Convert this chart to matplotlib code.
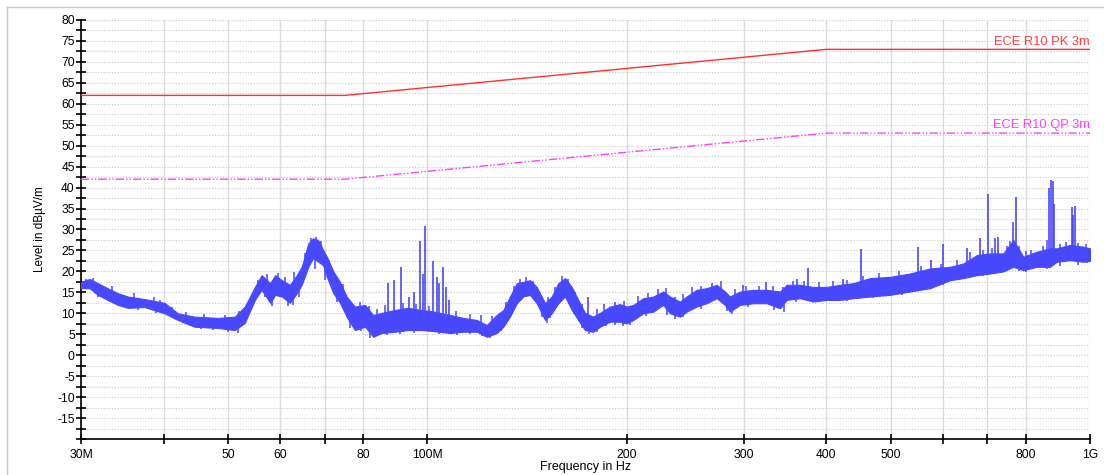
import numpy as np
import matplotlib
matplotlib.use("Agg")
import matplotlib.pyplot as plt
from matplotlib.ticker import FixedLocator, FixedFormatter, MultipleLocator
from matplotlib.lines import Line2D

plt.rcParams['font.family'] = ['Liberation Sans', 'DejaVu Sans']
plt.rcParams['axes.unicode_minus'] = False

# limit lines (MHz, dBuV/m)
pk_freq = [30, 75, 400, 1000]
pk_level = [62, 62, 73, 73]
qp_freq = [30, 75, 400, 1000]
qp_level = [42, 42, 53, 53]

trace_freq = [30.0, 30.9, 31.8, 32.9, 34.1, 35.3, 37.4, 40.1, 42.0, 44.5,
              48.3, 51.2, 53.0, 54.9, 56.2, 57.9, 58.9, 60.3, 62.0, 63.5,
              64.6, 66.1, 67.2, 68.4, 69.6, 70.5, 72.1, 73.8, 75.5, 77.7,
              80.5, 82.8, 85.3, 89.3, 93.5, 98.0, 101.5, 108.2, 113.3, 118.7,
              122.9, 127.2, 130.2, 133.2, 136.4, 139.5, 142.8, 146.2, 150.5, 154.0,
              157.6, 161.3, 165.1, 168.9, 172.9, 177.9, 182.1, 188.6, 195.2, 199.8,
              204.5, 211.7, 219.2, 226.9, 232.3, 240.5, 246.1, 254.8, 263.8, 273.2,
              281.2, 286.1, 296.3, 310.3, 325.1, 340.5, 348.5, 365.0, 382.2, 400.4,
              419.4, 439.2, 465.5, 499.0, 535.0, 573.5, 614.9, 644.0, 674.7, 706.6,
              740.0, 766.1, 793.2, 831.0, 870.3, 890.8, 932.8, 976.9, 1000.0]
trace_high = [17.5, 18.2, 17.2, 16.0, 14.8, 14.0, 13.4, 12.5, 10.0, 9.2,
              8.9, 9.2, 11.6, 16.3, 19.1, 17.2, 19.1, 17.9, 16.8, 19.1,
              21.1, 26.7, 27.9, 27.5, 25.1, 23.5, 20.0, 17.5, 14.0, 11.6,
              12.0, 9.6, 10.1, 10.8, 11.3, 10.8, 10.5, 9.6, 8.9, 8.4,
              7.2, 9.6, 10.8, 14.0, 17.2, 17.5, 17.9, 16.3, 12.4, 14.0,
              17.2, 18.4, 16.3, 13.2, 10.1, 9.2, 10.1, 11.6, 12.2, 11.6,
              12.0, 13.6, 14.0, 15.2, 14.0, 12.8, 14.0, 15.6, 16.0, 16.8,
              15.2, 14.0, 15.2, 15.6, 15.6, 15.2, 16.8, 16.8, 16.3, 16.3,
              16.8, 17.2, 18.4, 18.7, 19.5, 20.7, 21.1, 21.9, 23.9, 24.3,
              24.3, 27.5, 23.5, 24.7, 25.5, 25.5, 26.3, 25.9, 25.5]
trace_low = [16.0, 16.0, 14.4, 13.2, 12.0, 11.3, 11.5, 10.0, 8.4, 6.8,
             6.5, 6.0, 7.7, 13.2, 15.6, 12.5, 14.4, 14.0, 12.5, 14.8,
             16.8, 21.1, 23.2, 22.3, 21.5, 18.7, 14.8, 12.5, 9.2, 6.0,
             6.8, 4.4, 5.3, 5.6, 6.0, 6.0, 5.8, 5.3, 5.6, 5.6,
             4.4, 5.3, 6.8, 9.2, 12.4, 14.0, 14.4, 12.4, 8.4, 10.0,
             12.4, 14.0, 10.8, 8.4, 6.0, 5.6, 6.8, 8.0, 8.0, 7.6,
             8.4, 10.0, 10.4, 12.0, 10.0, 9.2, 10.4, 11.6, 12.4, 13.6,
             12.0, 10.4, 12.0, 12.4, 12.4, 11.2, 13.2, 13.6, 12.8, 13.2,
             13.2, 13.6, 14.0, 14.4, 15.2, 16.0, 17.9, 18.4, 19.1, 19.5,
             20.0, 21.1, 20.3, 21.1, 21.1, 22.3, 22.7, 22.3, 22.5]

# narrow spikes sticking out of the band
spike_freq = [87.3, 89.0, 91.2, 93.9, 95.3, 97.4, 98.6, 99.2, 102.0, 103.5,
              104.2, 105.4, 106.7, 107.7, 174.9, 191.9, 299.4, 323.9, 360.8, 375.6,
              424.2, 450.6, 550.6, 574.9, 600.6, 651.6, 682.5, 701.0, 719.0, 725.8,
              766.1, 773.3, 868.7, 873.3, 877.9, 882.4, 938.3, 944.2, 950.1]
spike_top = [17.2, 17.9, 21.1, 14.0, 15.2, 27.3, 19.4, 30.8, 22.5, 18.7,
             17.3, 21.0, 16.2, 13.2, 14.0, 12.8, 16.8, 17.5, 18.1, 20.9,
             18.1, 25.3, 25.9, 22.7, 26.5, 25.5, 27.9, 38.5, 27.9, 28.1,
             31.9, 37.7, 40.0, 41.7, 41.5, 36.0, 35.3, 33.5, 35.6]

# small noise excursions above / below the band
up_freq = [30.5, 31.3, 33.4, 36.1, 38.6, 39.5, 41.2, 43.2, 46.0, 49.5,
           52.0, 55.5, 57.2, 59.5, 61.0, 63.0, 65.3, 66.7, 67.8, 69.0,
           71.0, 74.5, 79.0, 81.5, 84.0, 86.3, 92.0, 96.0, 100.5, 110.5,
           116.0, 120.5, 125.0, 131.5, 135.0, 138.0, 141.0, 144.5, 148.0, 152.0,
           156.0, 159.5, 163.2, 167.0, 171.0, 180.0, 185.0, 198.0, 208.0, 215.0,
           223.0, 229.5, 236.0, 243.0, 250.5, 259.0, 268.5, 277.0, 291.0, 303.0,
           317.0, 332.0, 344.0, 356.0, 370.0, 390.0, 410.0, 430.0, 455.0, 480.0,
           515.0, 555.0, 595.0, 630.0, 660.0, 690.0, 712.0, 750.0, 758.0, 780.0,
           800.0, 815.0, 850.0, 860.0, 900.0, 920.0, 960.0, 985.0]
up_top = [18.3, 18.5, 16.6, 14.8, 13.9, 13.2, 11.6, 10.3, 9.8, 9.6,
          10.5, 18.0, 19.4, 19.6, 18.6, 19.8, 24.5, 28.0, 28.3, 27.2,
          22.8, 17.0, 12.6, 11.8, 11.0, 12.0, 12.4, 12.2, 11.8, 10.6,
          9.8, 9.6, 9.4, 12.8, 16.6, 18.2, 18.6, 17.8, 14.8, 13.8,
          16.2, 19.0, 18.2, 15.2, 12.2, 11.0, 12.2, 13.0, 14.2, 14.8,
          15.8, 16.0, 13.8, 14.6, 16.2, 16.6, 17.2, 17.6, 15.8, 16.4,
          16.6, 16.4, 16.2, 17.8, 17.6, 17.4, 17.8, 18.0, 18.8, 19.6,
          20.2, 21.4, 21.8, 22.8, 24.6, 25.0, 25.6, 26.0, 27.2, 26.0,
          24.8, 25.2, 26.0, 27.5, 26.6, 27.0, 26.8, 26.6]
dn_freq = [31.8, 34.8, 36.6, 39.0, 42.8, 45.5, 47.5, 50.0, 51.8, 56.8,
           58.3, 61.5, 62.7, 64.0, 67.6, 70.0, 73.0, 76.5, 79.5, 81.8,
           84.0, 87.0, 91.0, 95.5, 104.0, 111.0, 116.0, 121.0, 124.5, 129.0,
           138.0, 149.0, 151.5, 153.0, 166.5, 171.0, 175.5, 180.0, 186.0, 192.0,
           197.0, 202.0, 214.0, 230.0, 236.5, 243.0, 259.0, 283.0, 288.0, 305.0,
           333.0, 345.0, 360.0, 390.0, 430.0, 470.0, 520.0, 600.0, 690.0, 780.0,
           800.0, 860.0, 900.0, 960.0, 990.0]
dn_bot = [13.8, 11.4, 10.7, 10.0, 7.8, 6.2, 5.9, 5.6, 5.4, 14.0,
          11.8, 11.8, 12.0, 14.0, 20.5, 18.0, 12.8, 6.5, 5.8, 4.2,
          4.6, 4.8, 5.0, 5.2, 5.0, 4.8, 5.0, 4.6, 4.0, 5.8,
          13.2, 9.0, 7.6, 8.8, 9.8, 6.6, 5.0, 5.6, 7.0, 7.2,
          7.0, 7.2, 9.4, 9.6, 8.6, 9.2, 11.0, 10.6, 9.8, 11.4,
          10.8, 10.4, 12.8, 12.6, 13.0, 13.6, 14.4, 16.8, 18.8, 20.0,
          19.8, 20.6, 21.4, 21.6, 22.0]

x_ticks = [30, 40, 50, 60, 70, 80, 100, 200, 300, 400, 500, 600, 700, 800, 1000]
x_labels = ['30M', '', '50', '60', '', '80', '100M', '200', '300', '400', '500', '', '', '800', '1G']

blue = '#4848ff'
fig = plt.figure(figsize=(11.04, 4.75), dpi=100)
ax = fig.add_axes([81 / 1104, 1 - 439 / 475, 1009 / 1104, 419 / 475])

# outer panel border (left and top)
fig.add_artist(Line2D([7 / 1104, 7 / 1104], [0, 1 - 7 / 475], transform=fig.transFigure, color='#c8c8c8', lw=1))
fig.add_artist(Line2D([7 / 1104, 1], [1 - 7 / 475, 1 - 7 / 475], transform=fig.transFigure, color='#c8c8c8', lw=1))

ax.set_xscale('log')
ax.set_xlim(30, 1000)
ax.set_ylim(-20, 80)

ax.fill_between(trace_freq, trace_low, trace_high, color=blue, lw=0.8, edgecolor=blue, zorder=3)
mid = (np.array(trace_low) + np.array(trace_high)) / 2
ax.vlines(up_freq, np.interp(up_freq, trace_freq, mid), up_top, color=blue, lw=1.1, zorder=3)
ax.vlines(dn_freq, dn_bot, np.interp(dn_freq, trace_freq, mid), color=blue, lw=1.1, zorder=3)
ax.vlines(spike_freq, np.interp(spike_freq, trace_freq, mid), spike_top, color=blue, lw=1.2, zorder=3)

ax.plot(pk_freq, pk_level, color='#ff3030', lw=1, zorder=4)
ax.plot(qp_freq, qp_level, color='#ff40ff', lw=1, ls=(0, (6, 1.5, 1, 1.5, 1, 1.5)), zorder=4)
ax.text(1000, 73.4, 'ECE R10 PK 3m', color='#ff4040', fontsize=9.3, ha='right', va='bottom')
ax.text(1000, 53.4, 'ECE R10 QP 3m', color='#ff40ff', fontsize=9.3, ha='right', va='bottom')

ax.xaxis.set_major_locator(FixedLocator(x_ticks))
ax.xaxis.set_major_formatter(FixedFormatter(x_labels))
ax.xaxis.set_minor_locator(FixedLocator([]))
ax.set_yticks([v for v in range(-15, 81, 5)])
ax.yaxis.set_minor_locator(MultipleLocator(2.5))

ax.grid(True, axis='x', which='major', color='#dcdcdc', lw=1, ls='-')
ax.grid(True, axis='y', which='both', color='#c8c8c8', lw=0.8, ls=(0, (1, 1.5)))
ax.set_axisbelow(True)

for s in ['top', 'right']:
    ax.spines[s].set_visible(False)
for s in ['left', 'bottom']:
    ax.spines[s].set_linewidth(1.2)

ax.tick_params(axis='both', which='both', direction='inout', width=1.2, labelsize=8.7)
ax.tick_params(axis='y', which='major', length=7, pad=1)
ax.tick_params(axis='y', which='minor', length=7)
ax.tick_params(axis='x', which='major', length=7, pad=4)

ax.set_ylabel('Level in dBµV/m', fontsize=8.5, labelpad=8)
ax.set_xlabel('Frequency in Hz', fontsize=9)
ax.xaxis.set_label_coords(0.5, -0.052)

plt.savefig('out.png', dpi=100)
